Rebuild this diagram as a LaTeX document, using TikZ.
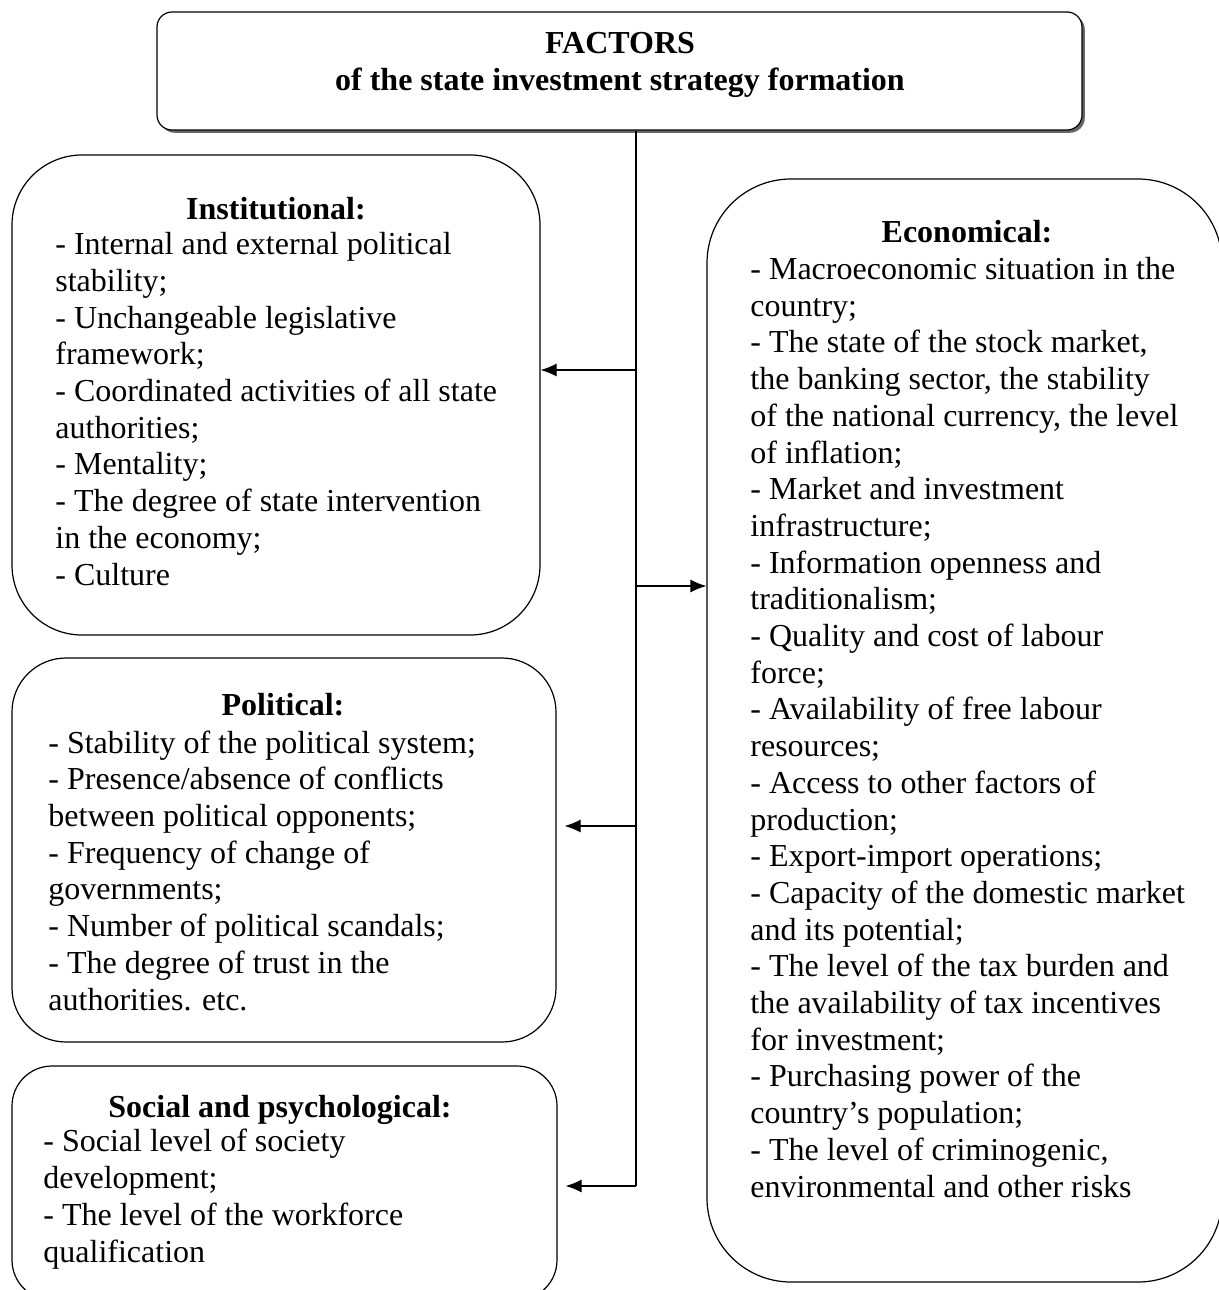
\documentclass[tikz,border=0pt]{standalone}
\usepackage{fontspec}
\setmainfont{Liberation Serif}
\usetikzlibrary{arrows.meta,shadows}

\begin{document}
\begin{tikzpicture}[x=0.5pt, y=-0.5pt,
	box/.style={draw, line width=0.6pt, inner sep=0pt},
	head/.style={font=\fontsize{16}{18.35}\selectfont\bfseries, anchor=base},
	body/.style={font=\fontsize{16}{18.35}\selectfont, align=left, anchor=base west, inner sep=0pt},
	arr/.style={line width=0.6pt, -{Latex[length=8pt, width=6.5pt]}}]
			\useasboundingbox (0, 0) rectangle (1219, 1290);
			\node[box, rounded corners=7.5pt, minimum width=462.5pt, minimum height=59pt, fill=white,
				drop shadow={shadow xshift=1.4pt, shadow yshift=-1.4pt, fill=black!60, opacity=1}] (top) at (619.5, 71) {};
			\node[head, align=center] (toptext) at (620, 90) {FACTORS\\of the state investment strategy formation};
			\node[box, rounded corners=35pt, minimum width=264pt, minimum height=240pt] (inst) at (276, 395) {};
			\node[box, rounded corners=27pt, minimum width=272pt, minimum height=192pt] (pol) at (284, 850) {};
			\node[box, rounded corners=20pt, minimum width=272.5pt, minimum height=117pt] (soc) at (284.5, 1183) {};
			\node[box, rounded corners=42pt, minimum width=257.5pt, minimum height=551.5pt] (eco) at (964.5, 730.5) {};
			% text of the four groups, placed by the baseline of the last line
			\node[head] (insthead) at (276, 219) {Institutional:};
			\node[body] (instbody) at (55, 585) {- Internal and external political\\stability;\\- Unchangeable legislative\\framework;\\- Coordinated activities of all state\\authorities;\\- Mentality;\\- The degree of state intervention\\in the economy;\\- Culture};
			\node[head] (polhead) at (283, 715) {Political:};
			\node[body] (polbody) at (48, 1010) {- Stability of the political system;\\- Presence/absence of conflicts\\between political opponents;\\- Frequency of change of\\governments;\\- Number of political scandals;\\- The degree of trust in the\\authorities. etc.};
			\node[head] (sochead) at (280, 1117) {Social and psychological:};
			\node[body] (socbody) at (43, 1262) {- Social level of society\\development;\\- The level of the workforce\\qualification};
			\node[head] (ecohead) at (967, 242) {Economical:};
			\node[body] (ecobody) at (750, 1197) {- Macroeconomic situation in the\\country;\\- The state of the stock market,\\the banking sector, the stability\\of the national currency, the level\\of inflation;\\- Market and investment\\infrastructure;\\- Information openness and\\traditionalism;\\- Quality and cost of labour\\force;\\- Availability of free labour\\resources;\\- Access to other factors of\\production;\\- Export-import operations;\\- Capacity of the domestic market\\and its potential;\\- The level of the tax burden and\\the availability of tax incentives\\for investment;\\- Purchasing power of the\\country’s population;\\- The level of criminogenic,\\environmental and other risks};
			\coordinate (trunk) at (636, 1186);
			\coordinate (j1) at (636, 370);
			\coordinate (j2) at (636, 586);
			\coordinate (j3) at (636, 826);
			\draw[line width=0.6pt] (top.south -| trunk) -- (trunk);
			\draw[arr] (j1) -- (j1 -| inst.east);
			\draw[arr] (j2) -- (j2 -| eco.west);
			\draw[arr, shorten >=4pt] (j3) -- (j3 -| pol.east);
			\draw[arr, shorten >=4pt] (trunk) -- (trunk -| soc.east);
		\end{tikzpicture}
\end{document}
